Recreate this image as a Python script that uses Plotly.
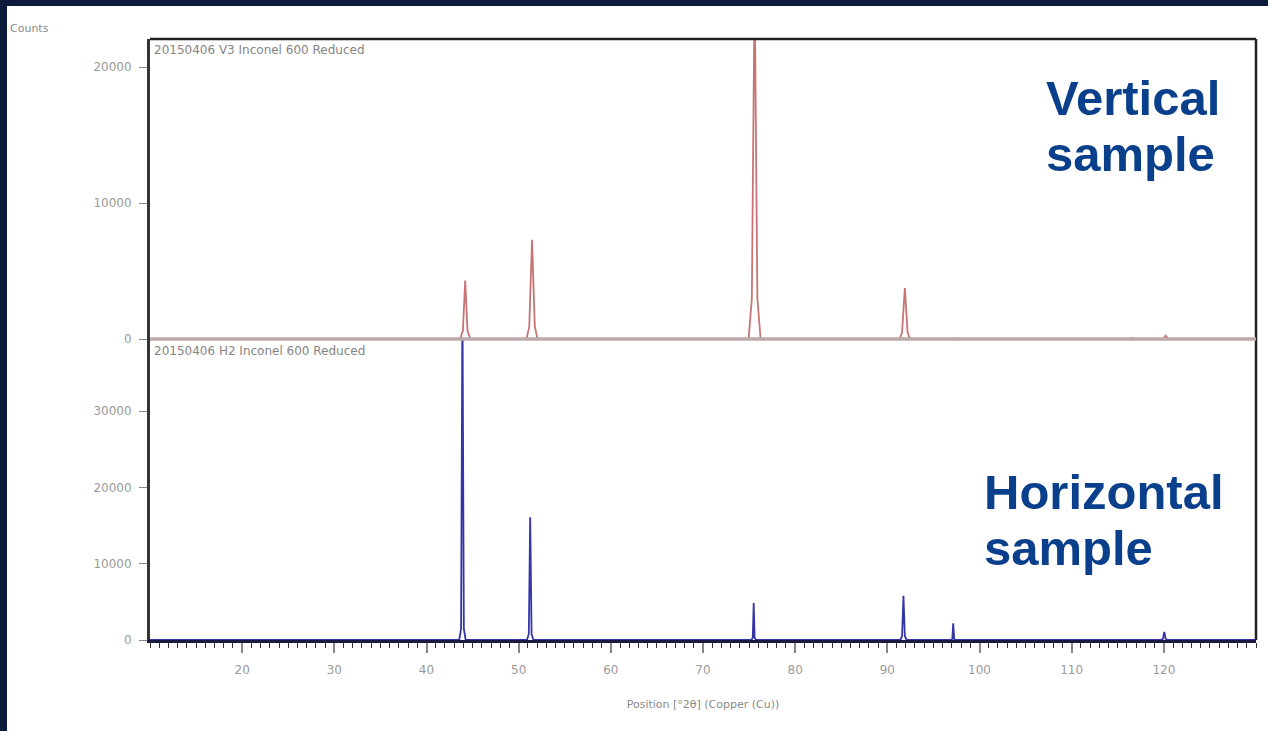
import plotly.graph_objects as go

# ---- data ----
# Vertical sample (V3) trace vertices: 2theta and counts
v_x = [10, 43.65, 43.95, 44.2, 44.45, 44.75,
       50.85, 51.15, 51.45, 51.75, 52.05,
       74.95, 75.3, 75.6, 75.9, 76.25,
       91.35, 91.6, 91.9, 92.2, 92.45,
       97.2, 97.4, 97.6,
       116.3, 116.5, 116.7,
       119.9, 120.2, 120.5, 130]
v_y = [0, 0, 600, 4300, 600, 0,
       0, 900, 7300, 900, 0,
       0, 3000, 26000, 3000, 0,
       0, 500, 3750, 500, 0,
       0, 60, 0,
       0, 90, 0,
       0, 250, 0, 0]

# Horizontal sample (H2) trace vertices
h_x = [10, 43.55, 43.75, 43.9, 44.05, 44.25,
       50.9, 51.1, 51.25, 51.4, 51.6,
       75.25, 75.4, 75.5, 75.6, 75.75,
       91.4, 91.6, 91.75, 91.9, 92.1,
       96.95, 97.05, 97.15, 97.25, 97.35,
       119.7, 119.9, 120.05, 120.2, 120.4, 130]
h_y = [0, 0, 1500, 45000, 1500, 0,
       0, 800, 16100, 800, 0,
       0, 300, 4850, 300, 0,
       0, 500, 5800, 500, 0,
       0, 150, 2200, 150, 0,
       0, 150, 1050, 150, 0, 0]

x_ticks = [20, 30, 40, 50, 60, 70, 80, 90, 100, 110, 120]
top_ticks = [0, 10000, 20000]
bottom_ticks = [0, 10000, 20000, 30000]

title_top = "20150406 V3 Inconel 600 Reduced"
title_bottom = "20150406 H2 Inconel 600 Reduced"

W, H = 1268, 731
L, R, T, B = 150, 12, 39, 91
pw, ph = W - L - R, H - T - B
mid_px = 339  # divider between panels (from top)
mid_frac = (H - B - mid_px) / ph


def px_x(p):
    return (p - L) / pw


def px_y(p):
    return (H - B - p) / ph


fig = go.Figure()

fig.add_trace(go.Scatter(x=v_x, y=v_y, mode="lines", xaxis="x", yaxis="y2",
                         line=dict(color="#c87474", width=1.8), hoverinfo="skip",
                         showlegend=False))
fig.add_trace(go.Scatter(x=h_x, y=h_y, mode="lines", xaxis="x", yaxis="y",
                         line=dict(color="#3535a8", width=1.8), hoverinfo="skip",
                         showlegend=False))

grey = "#9a9a9a"
tickfont = dict(family="DejaVu Sans", size=12, color=grey)

fig.update_layout(
    width=W, height=H,
    margin=dict(l=L, r=R, t=T, b=B),
    paper_bgcolor="#0b1c3c",
    plot_bgcolor="white",
    showlegend=False,
    xaxis=dict(range=[10, 130], tickvals=x_ticks, ticktext=[str(v) for v in x_ticks],
               ticks="outside", ticklen=10,
               tickcolor="#888", tickwidth=1.5, tickfont=tickfont, ticklabelstandoff=7,
               minor=dict(dtick=1, ticks="outside", ticklen=5, tickcolor="#333", tickwidth=1.2),
               showgrid=False, zeroline=False, showline=True, linecolor="#1a1a40",
               linewidth=3, anchor="y",
               title=dict(text="Position [°2θ] (Copper (Cu))",
                          font=dict(family="DejaVu Sans", size=11, color="#8a8a8a"),
                          standoff=24)),
    yaxis=dict(domain=[0, mid_frac], range=[0, 39450], tickvals=bottom_ticks,
               ticktext=[str(v) for v in bottom_ticks],
               ticks="outside", ticklen=8, tickcolor="#888", tickfont=tickfont,
               ticklabelstandoff=5,
               showgrid=False, zeroline=False, showline=True, linecolor="#333",
               linewidth=3, anchor="x"),
    yaxis2=dict(domain=[mid_frac, 1], range=[0, 22060], tickvals=top_ticks,
                ticktext=[str(v) for v in top_ticks],
                ticks="outside", ticklen=8, tickcolor="#888", tickfont=tickfont,
                ticklabelstandoff=5,
                showgrid=False, zeroline=False, showline=True, linecolor="#333",
                linewidth=3, anchor="x"),
)

# white page area over the dark frame
fig.add_shape(type="rect", xref="paper", yref="paper", x0=px_x(7), x1=px_x(W + 5),
              y0=px_y(H + 5), y1=px_y(6), fillcolor="white", line=dict(width=0),
              layer="below")

# frame: top and right
fig.add_shape(type="line", xref="paper", yref="paper", x0=0, x1=1, y0=1, y1=1,
              line=dict(color="#222", width=2.5))
fig.add_shape(type="line", xref="paper", yref="paper", x0=1, x1=1, y0=0, y1=1,
              line=dict(color="#222", width=2.5))
# baseline band of top panel
fig.add_shape(type="line", xref="paper", yref="paper", x0=0, x1=1,
              y0=mid_frac, y1=mid_frac, line=dict(color="#bca9aa", width=3.5))

small = dict(family="DejaVu Sans", size=12, color="#858585")
fig.add_annotation(text=title_top, xref="paper", yref="paper", x=px_x(152), y=px_y(41),
                   xanchor="left", yanchor="top", showarrow=False, font=small)
fig.add_annotation(text=title_bottom, xref="paper", yref="paper", x=px_x(152),
                   y=px_y(342), xanchor="left", yanchor="top",
                   showarrow=False, font=small)
fig.add_annotation(text="Counts", xref="paper", yref="paper",
                   x=px_x(8), y=px_y(28), xanchor="left", yanchor="middle",
                   showarrow=False, font=dict(family="DejaVu Sans", size=11, color="#8a8a8a"))

big = dict(family="Liberation Sans", size=49, color="#0a3f8c")
for txt, xl, yc in [("Vertical", 1044, 98), ("sample", 1044, 154),
                    ("Horizontal", 982, 492), ("sample", 982, 548)]:
    fig.add_annotation(text="<b>%s</b>" % txt, xref="paper", yref="paper",
                       x=px_x(xl), y=px_y(yc), xanchor="left", yanchor="middle",
                       showarrow=False, font=big)

fig.write_html("out.html",
               config={"displayModeBar": False},
               post_script="document.body.style.margin='0px';"
                           "document.body.style.overflow='hidden';")
